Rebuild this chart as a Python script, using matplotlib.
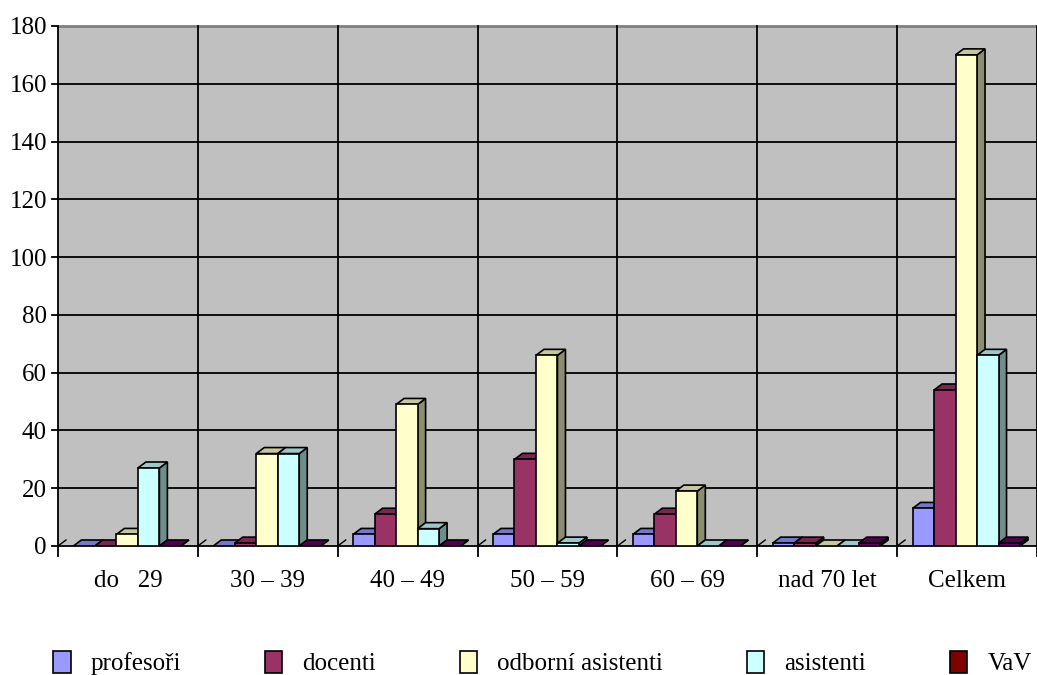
import matplotlib

matplotlib.use("Agg")
import matplotlib.pyplot as plt
from matplotlib.patches import Patch, Polygon, Rectangle
from matplotlib.colors import to_rgb

plt.rcParams["font.family"] = ["Liberation Serif", "DejaVu Serif"]

categories = ["do   29", "30 – 39", "40 – 49", "50 – 59", "60 – 69", "nad 70 let", "Celkem"]
series = ["profesoři", "docenti", "odborní asistenti", "asistenti", "VaV"]
profesori = [0, 0, 4, 4, 4, 1, 13]
docenti = [0, 1, 11, 30, 11, 1, 54]
odborni = [4, 32, 49, 66, 19, 0, 170]
asistenti = [27, 32, 6, 1, 0, 0, 66]
vav = [0, 0, 0, 0, 0, 1, 1]
yticks = list(range(0, 181, 20))

bar_colors = ["#9999FF", "#993366", "#FFFFCC", "#CCFFFF", "#660066"]
legend_colors = ["#9999FF", "#993366", "#FFFFCC", "#CCFFFF", "#800000"]


def shade(c, f):
    r, g, b = to_rgb(c)
    return (r * f, g * f, b * f)


W, H = 1037, 675
fig = plt.figure(figsize=(W / 100, H / 100), dpi=100)
ax_l, ax_r, ax_t, ax_b = 58, 1037, 26, 546
ax = fig.add_axes([ax_l / W, 1 - ax_b / H, (ax_r - ax_l) / W, (ax_b - ax_t) / H])
ax.set_xlim(0, 7)
ax.set_ylim(0, 180)
ax.set_facecolor("#C0C0C0")

# pixel -> data conversions for the fake 3D depth
px_x = 7 / (ax_r - ax_l)
px_y = 180 / (ax_b - ax_t)
dx, dy = 8 * px_x, 6 * px_y
bw = 21.5 * px_x
start = 0.11

# grid
for v in yticks[1:-1]:
    ax.plot([-6 * px_x, 7], [v, v], color="black", lw=1.3, clip_on=False, zorder=1)
ax.plot([-6 * px_x, 7], [0, 0], color="black", lw=1.3, clip_on=False, zorder=1)
ax.plot([-6 * px_x, 0], [180, 180], color="black", lw=1.3, clip_on=False, zorder=1)
ax.plot([0, 7], [180, 180], color="#808080", lw=2, clip_on=False, zorder=1)
for i in range(1, 8):
    ax.plot([i, i], [-10 * px_y, 180], color="black", lw=1.3, clip_on=False, zorder=1)
ax.plot([0, 0], [-10 * px_y, 180], color="black", lw=1.3, clip_on=False, zorder=1)
for i in range(0, 7):
    ax.plot([i, i + dx], [0, dy], color="black", lw=1.0, zorder=1)

all_vals = [profesori, docenti, odborni, asistenti, vav]
for ci in range(len(categories)):
    for si, vals in enumerate(all_vals):
        v = vals[ci]
        x0 = ci + start + si * bw
        c = bar_colors[si]
        z = 2 + si * 0.01
        ax.add_patch(Polygon([(x0 + bw, 0), (x0 + bw + dx, dy), (x0 + bw + dx, v + dy), (x0 + bw, v)],
                             closed=True, fc=shade(c, 0.55), ec="black", lw=1.2, zorder=z))
        ax.add_patch(Polygon([(x0, v), (x0 + dx, v + dy), (x0 + bw + dx, v + dy), (x0 + bw, v)],
                             closed=True, fc=shade(c, 0.78), ec="black", lw=1.2, zorder=z))
        if v > 0:
            ax.add_patch(Rectangle((x0, 0), bw, v, fc=c, ec="black", lw=1.2, zorder=z))

ax.set_yticks(yticks)
ax.set_yticklabels([str(t) for t in yticks], fontsize=18)
ax.set_xticks([i + 0.5 for i in range(7)])
ax.set_xticklabels(categories, fontsize=18)
ax.tick_params(length=0, pad=8)
ax.tick_params(axis="x", pad=17)
for s in ax.spines.values():
    s.set_visible(False)

handles = [Patch(fc=c, ec="black", lw=1.2) for c in legend_colors]
fig.legend(handles, series, loc="lower center", bbox_to_anchor=(0.523, -0.034), ncol=5,
           frameon=False, fontsize=18, handlelength=0.7, handleheight=1.0,
           columnspacing=3.35, handletextpad=0.8)

fig.savefig("out.png", dpi=100)
